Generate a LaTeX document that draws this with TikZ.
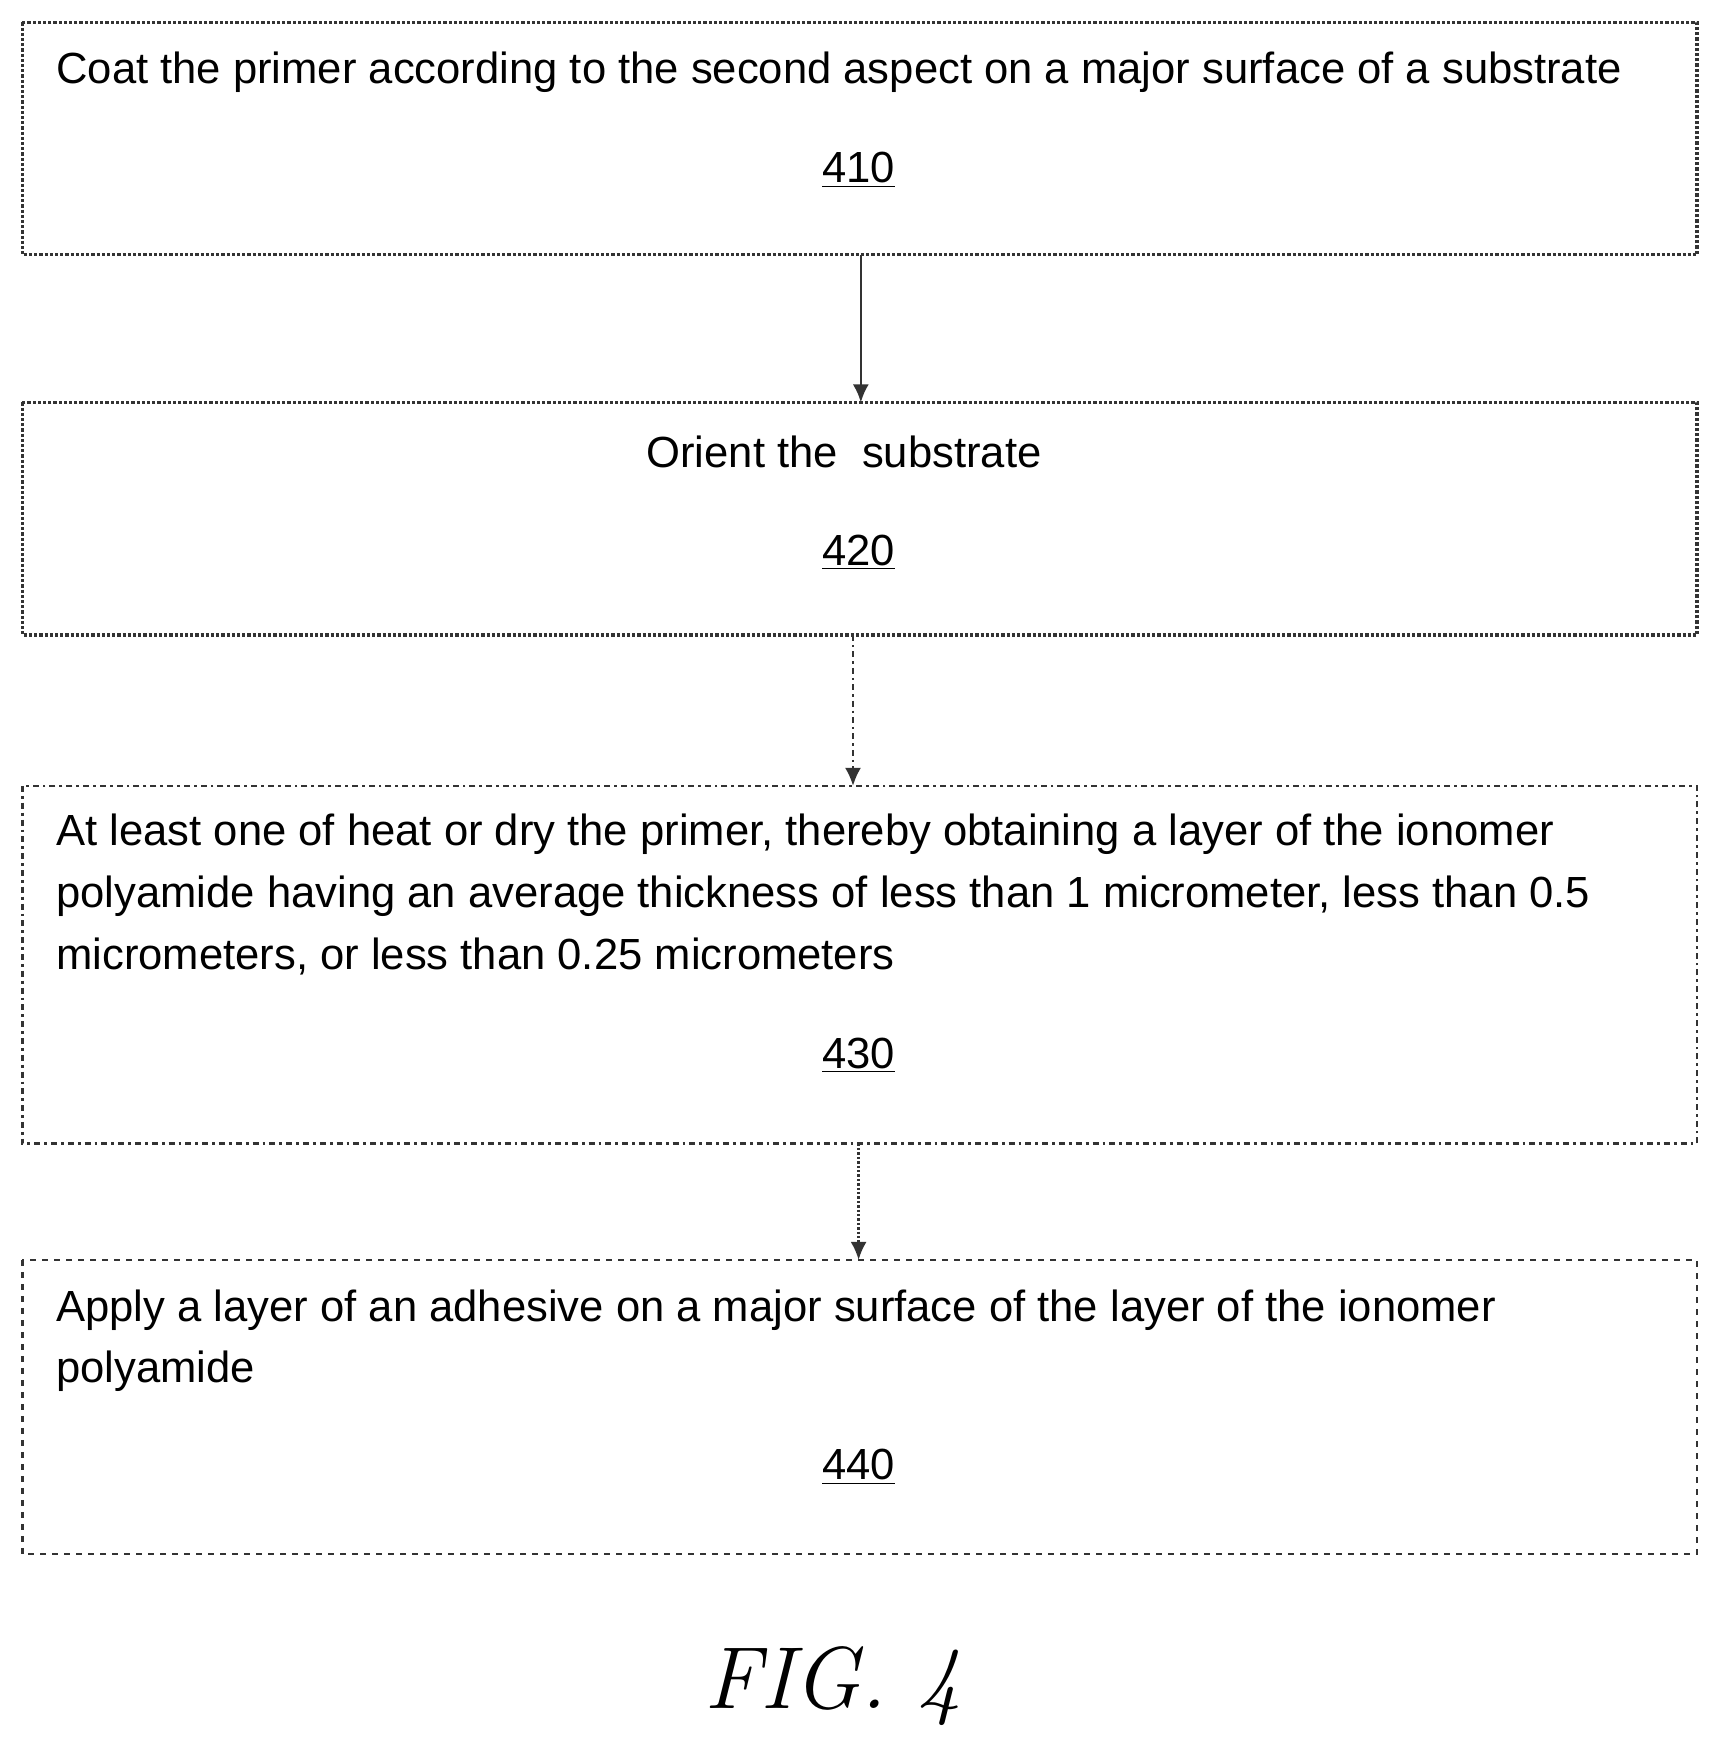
\documentclass[tikz,border=0pt]{standalone}
\usetikzlibrary{arrows.meta}
\usepackage{fontspec}
\setmainfont{Liberation Sans}
\newfontfamily\figfont{Latin Modern Roman}
\begin{document}
\begin{tikzpicture}[x=0.559pt,y=-0.559pt,
  txt/.style={anchor=north west,align=left,font=\fontsize{21.8}{31}\selectfont,inner sep=0pt},
  num/.style={anchor=center,font=\fontsize{21.8}{31}\selectfont,inner sep=0pt},
  arr/.style={-{Latex[length=9pt,width=8pt]},line width=1.2pt,black!80}]
\useasboundingbox (0,0) rectangle (1528,1560);
\draw[line width=1.6pt,black!80,densely dotted] (20,20) rectangle (1518,228);
\draw[line width=1.6pt,black!80,densely dotted] (20,360) rectangle (1518,568);
\draw[line width=1.4pt,black!80,dash dot] (20,703) rectangle (1518,1023);
\draw[line width=1.4pt,black!80,dashed] (20,1127) rectangle (1518,1390);
\coordinate (b1) at (770,228); \coordinate (t2) at (770,360);
\coordinate (b2) at (763,568); \coordinate (t3) at (763,703);
\coordinate (b3) at (768,1023); \coordinate (t4) at (768,1127);
\node[txt] (a1) at (50,46) {Coat the primer according to the second aspect on a major surface of a substrate};
\node[num] (n1) at (768,152) {\underline{410}};
\node[num] (a2) at (755,404) {Orient the\ \ substrate};
\node[num] (n2) at (768,494) {\underline{420}};
\node[txt] (a3) at (50,728) {At least one of heat or dry the primer, thereby obtaining a layer of the ionomer\\polyamide having an average thickness of less than 1 micrometer, less than 0.5\\micrometers, or less than 0.25 micrometers};
\node[num] (n3) at (768,944) {\underline{430}};
\node[txt] (a4) at (50,1153) {Apply a layer of an adhesive on a major surface of the layer of the ionomer\\polyamide};
\node[num] (n4) at (768,1312) {\underline{440}};
\draw[arr] (b1) -- (t2);
\draw[arr,dash dot] (b2) -- (t3);
\draw[arr,densely dotted] (b3) -- (t4);
\node[font=\figfont\itshape\fontsize{44}{50}\selectfont] (fig) at (745,1508) {FIG. 4};
\end{tikzpicture}
\end{document}
